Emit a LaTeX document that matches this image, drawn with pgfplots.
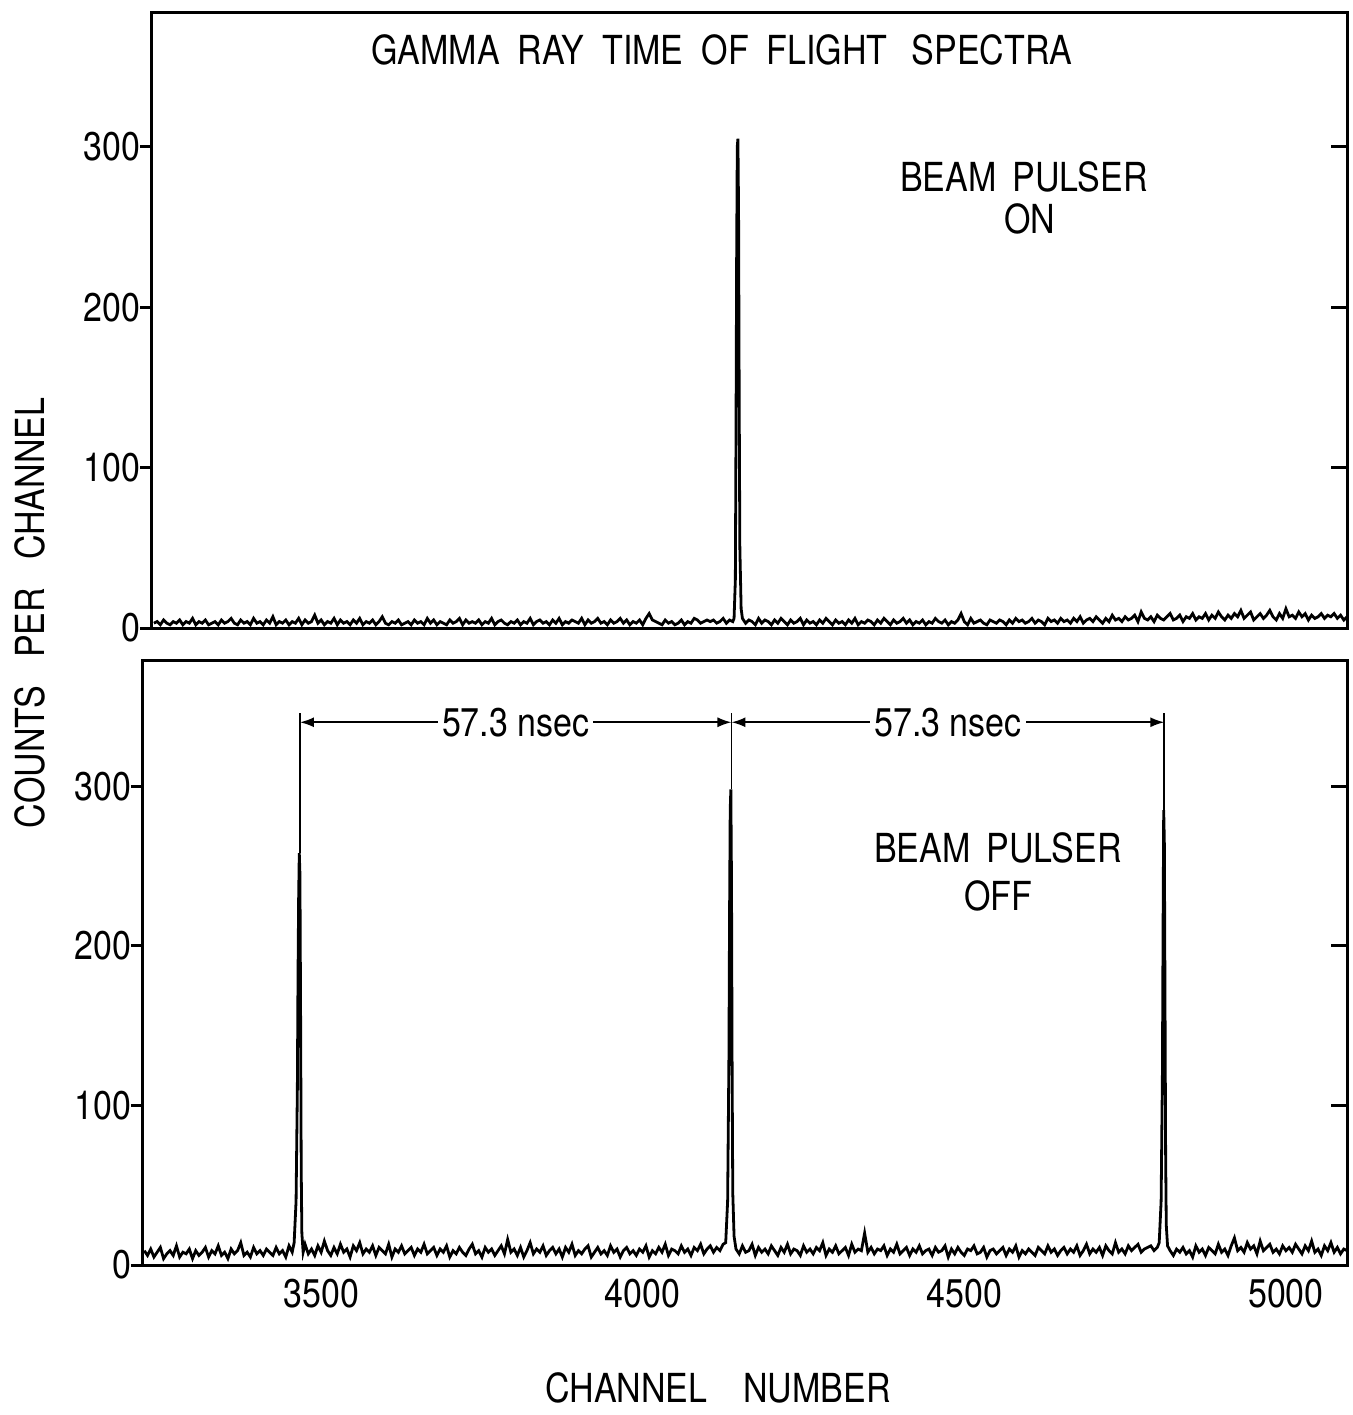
\documentclass[border=0pt]{standalone}
\usepackage{fontspec}
\setmainfont{TeX Gyre Heros}[FakeStretch=0.85]
\usepackage{pgfplots}
\pgfplotsset{compat=1.18}
\usetikzlibrary{arrows.meta}
\begin{document}
\fontsize{20}{24}\selectfont
\begin{tikzpicture}
\useasboundingbox (0,0) rectangle (676.5pt,-707.5pt);
\pgfplotsset{
  panel/.style={
    scale only axis,
    axis line style={line width=1.5pt},
    every tick/.style={line width=1.5pt, black},
    major tick length=6pt,
    tick align=outside,
    ytick pos=left,
    xtick pos=left,
    ytick={0,100,200,300},
    ymin=0,
    /pgf/number format/assume math mode=true,
    tick label style={font=\fontsize{20}{24}\selectfont},
    yticklabel style={xshift=7pt},
    clip=true,
  }
}
% ---------------- top panel ----------------
\begin{axis}[panel, at={(76pt,-314pt)}, anchor=south west,
  width=597.5pt, height=308pt, xmin=3237, xmax=5095, ymax=384, xtick=\empty]
\addplot[black, line width=1.4pt] coordinates {
(3240,3)(3245,4)(3250,2)(3255,5)(3260,3)(3265,2)(3270,4)(3275,3)(3280,5)(3285,2)(3290,4)(3295,3)(3300,6)(3305,2)(3310,4)(3315,3)(3320,5)(3325,2)(3330,3)(3335,4)
(3340,2)(3345,5)(3350,3)(3355,4)(3360,6)(3365,3)(3370,2)(3375,5)(3380,3)(3385,4)(3390,2)(3395,6)(3400,3)(3405,4)(3410,2)(3415,5)(3420,3)(3425,7)(3430,2)(3435,4)
(3440,3)(3445,5)(3450,2)(3455,4)(3460,3)(3465,6)(3470,2)(3475,5)(3480,3)(3485,4)(3490,8)(3495,3)(3500,5)(3505,2)(3510,4)(3515,3)(3520,6)(3525,2)(3530,5)(3535,3)
(3540,4)(3545,2)(3550,5)(3555,3)(3560,6)(3565,2)(3570,4)(3575,3)(3580,5)(3585,2)(3590,4)(3595,7)(3600,3)(3605,2)(3610,4)(3615,3)(3620,5)(3625,2)(3630,3)(3635,4)
(3640,2)(3645,5)(3650,3)(3655,4)(3660,2)(3665,6)(3670,3)(3675,5)(3680,2)(3685,4)(3690,3)(3695,2)(3700,5)(3705,3)(3710,4)(3715,6)(3720,2)(3725,5)(3730,3)(3735,4)
(3740,3)(3745,5)(3750,2)(3755,4)(3760,3)(3765,6)(3770,2)(3775,4)(3780,5)(3785,3)(3790,2)(3795,4)(3800,3)(3805,5)(3810,2)(3815,4)(3820,3)(3825,6)(3830,2)(3835,4)
(3840,5)(3845,3)(3850,4)(3855,2)(3860,5)(3865,3)(3870,6)(3875,2)(3880,4)(3885,3)(3890,5)(3895,4)(3900,3)(3905,6)(3910,2)(3915,5)(3920,3)(3925,4)(3930,6)(3935,3)
(3940,4)(3945,2)(3950,5)(3955,3)(3960,4)(3965,6)(3970,3)(3975,5)(3980,2)(3985,4)(3990,3)(3995,5)(4000,2)(4005,6)(4010,9)(4015,5)(4020,4)(4025,3)(4030,2)(4035,5)
(4040,3)(4045,4)(4050,2)(4055,3)(4060,5)(4065,2)(4070,4)(4075,3)(4080,6)(4085,5)(4090,3)(4095,4)(4100,5)(4105,4)(4110,5)(4115,3)(4120,4)(4125,6)(4130,3)(4135,5)(4140,4)
(4142,6)(4144,30)(4145,120)(4146,230)(4147,300)(4148,305)(4149,260)(4150,140)(4151,50)(4153,12)(4155,6)
(4160,3)(4165,5)(4170,4)(4175,2)(4180,6)(4185,3)(4190,5)(4195,4)(4200,2)(4205,5)(4210,3)(4215,6)(4220,4)(4225,2)(4230,5)(4235,3)(4240,4)(4245,6)(4250,2)(4255,5)
(4260,3)(4265,4)(4270,2)(4275,5)(4280,3)(4285,6)(4290,4)(4295,2)(4300,5)(4305,3)(4310,4)(4315,2)(4320,5)(4325,3)(4330,6)(4335,2)(4340,4)(4345,3)(4350,5)(4355,4)
(4360,2)(4365,5)(4370,3)(4375,6)(4380,4)(4385,2)(4390,5)(4395,3)(4400,4)(4405,6)(4410,3)(4415,5)(4420,2)(4425,4)(4430,3)(4435,5)(4440,2)(4445,4)(4450,3)(4455,6)
(4460,4)(4465,3)(4470,5)(4475,2)(4480,4)(4485,3)(4490,5)(4495,9)(4500,4)(4505,2)(4510,6)(4515,3)(4520,4)(4525,5)(4530,3)(4535,2)(4540,5)(4545,4)(4550,3)(4555,5)
(4560,4)(4565,2)(4570,5)(4575,3)(4580,6)(4585,4)(4590,5)(4595,3)(4600,4)(4605,6)(4610,3)(4615,5)(4620,4)(4625,2)(4630,6)(4635,4)(4640,5)(4645,3)(4650,6)(4655,4)
(4660,5)(4665,3)(4670,6)(4675,4)(4680,7)(4685,3)(4690,5)(4695,6)(4700,4)(4705,7)(4710,5)(4715,3)(4720,6)(4725,4)(4730,8)(4735,5)(4740,6)(4745,4)(4750,7)(4755,5)
(4760,6)(4765,8)(4770,4)(4775,10)(4780,6)(4785,5)(4790,7)(4795,4)(4800,8)(4805,6)(4810,5)(4815,7)(4820,9)(4825,5)(4830,6)(4835,8)(4840,4)(4845,7)(4850,6)(4855,9)
(4860,5)(4865,7)(4870,6)(4875,9)(4880,5)(4885,8)(4890,6)(4895,10)(4900,7)(4905,5)(4910,8)(4915,6)(4920,9)(4925,7)(4930,11)(4935,6)(4940,8)(4945,10)(4950,5)(4955,7)
(4960,9)(4965,6)(4970,8)(4975,11)(4980,7)(4985,5)(4990,9)(4995,6)(5000,12)(5005,7)(5010,8)(5015,6)(5020,10)(5025,7)(5030,9)(5035,5)(5040,8)(5045,6)(5050,7)(5055,9)
(5060,6)(5065,8)(5070,7)(5075,9)(5080,6)(5085,8)(5090,5)(5095,7)
};
\end{axis}
% right-side inner ticks, top panel
\begin{axis}[scale only axis, at={(76pt,-314pt)}, anchor=south west,
  width=597.5pt, height=308pt, xmin=3237, xmax=5095, ymin=0, ymax=384,
  axis line style={draw=none}, xtick=\empty, ytick={100,200,300}, yticklabels={},
  ytick pos=right, tick align=inside, major tick length=8pt,
  every tick/.style={line width=1.5pt, black}]
\end{axis}
% ---------------- bottom panel ----------------
\begin{axis}[panel, at={(71.5pt,-632.5pt)}, anchor=south west,
  width=602pt, height=302.5pt, xmin=3223, xmax=5095, ymax=379,
  xtick={3500,4000,4500,5000}, xticklabel style={yshift=6pt},
  x tick style={draw=none},
  scaled x ticks=false, xticklabel={\pgfmathprintnumber[1000 sep={}]{\tick}}]
\addplot[black, line width=1.4pt] coordinates {
(3225,9)(3230,6)(3235,10)(3240,5)(3245,8)(3250,11)(3255,4)(3260,7)(3265,9)(3270,6)(3275,12)(3280,5)(3285,8)(3290,7)(3295,10)(3300,4)(3305,9)(3310,6)(3315,8)(3320,11)
(3325,5)(3330,9)(3335,7)(3340,12)(3345,6)(3350,8)(3355,4)(3360,10)(3365,7)(3370,9)(3375,14)(3380,6)(3385,8)(3390,5)(3395,11)(3400,7)(3405,9)(3410,6)(3415,10)(3420,8)
(3425,6)(3430,11)(3435,7)(3440,9)(3445,5)(3450,12)(3455,8)
(3458,14)(3461,40)(3463,110)(3464,180)(3465,230)(3466,258)(3467,245)(3468,160)(3469,60)(3470,20)(3472,8)
(3475,13)(3480,7)(3485,10)(3490,6)(3495,12)(3500,8)(3505,15)(3510,9)(3515,6)(3520,11)(3525,7)(3530,13)(3535,8)(3540,10)(3545,5)(3550,12)(3555,9)(3560,14)(3565,7)(3570,10)
(3575,8)(3580,12)(3585,6)(3590,11)(3595,9)(3600,7)(3605,13)(3610,5)(3615,10)(3620,8)(3625,12)(3630,7)(3635,9)(3640,11)(3645,6)(3650,10)(3655,8)(3660,13)(3665,7)(3670,9)
(3675,11)(3680,6)(3685,10)(3690,8)(3695,12)(3700,5)(3705,9)(3710,7)(3715,11)(3720,8)(3725,6)(3730,10)(3735,13)(3740,7)(3745,9)(3750,5)(3755,11)(3760,8)(3765,10)(3770,6)
(3775,9)(3780,12)(3785,7)(3790,16)(3795,8)(3800,10)(3805,6)(3810,11)(3815,5)(3820,9)(3825,14)(3830,7)(3835,10)(3840,8)(3845,12)(3850,6)(3855,9)(3860,11)(3865,7)(3870,10)
(3875,5)(3880,11)(3885,8)(3890,13)(3895,6)(3900,9)(3905,7)(3910,10)(3915,12)(3920,5)(3925,8)(3930,11)(3935,7)(3940,9)(3945,6)(3950,12)(3955,8)(3960,10)(3965,5)(3970,9)
(3975,11)(3980,7)(3985,9)(3990,6)(3995,10)(4000,8)(4005,12)(4010,5)(4015,9)(4020,7)(4025,11)(4030,8)(4035,13)(4040,6)(4045,10)(4050,9)(4055,7)(4060,12)(4065,8)(4070,10)
(4075,6)(4080,11)(4085,9)(4090,13)(4095,7)(4100,10)(4105,12)(4110,8)(4115,11)(4120,9)(4125,13)
(4129,14)(4132,40)(4134,130)(4135,220)(4136,285)(4137,298)(4138,240)(4139,120)(4140,45)(4142,18)
(4145,10)(4150,7)(4155,12)(4160,8)(4165,9)(4170,13)(4175,6)(4180,11)(4185,8)(4190,10)(4195,7)(4200,12)(4205,9)(4210,6)(4215,11)(4220,8)(4225,13)(4230,7)(4235,10)(4240,9)
(4245,6)(4250,12)(4255,8)(4260,10)(4265,7)(4270,11)(4275,9)(4280,14)(4285,6)(4290,10)(4295,8)(4300,12)(4305,7)(4310,9)(4315,11)(4320,6)(4325,13)(4330,8)(4335,10)(4340,9)
(4345,20)(4350,8)(4355,11)(4360,7)(4365,10)(4370,9)(4375,12)(4380,6)(4385,10)(4390,8)(4395,13)(4400,7)(4405,9)(4410,11)(4415,6)(4420,10)(4425,8)(4430,12)(4435,7)(4440,9)
(4445,10)(4450,6)(4455,11)(4460,8)(4465,9)(4470,12)(4475,5)(4480,10)(4485,7)(4490,11)(4495,8)(4500,6)(4505,10)(4510,9)(4515,12)(4520,7)(4525,8)(4530,11)(4535,5)(4540,9)
(4545,10)(4550,7)(4555,9)(4560,11)(4565,6)(4570,10)(4575,8)(4580,12)(4585,5)(4590,9)(4595,7)(4600,10)(4605,8)(4610,6)(4615,11)(4620,9)(4625,7)(4630,12)(4635,8)(4640,10)
(4645,6)(4650,9)(4655,11)(4660,7)(4665,10)(4670,8)(4675,12)(4680,6)(4685,9)(4690,13)(4695,7)(4700,10)(4705,8)(4710,11)(4715,6)(4720,12)(4725,9)(4730,7)(4735,14)(4740,8)
(4745,10)(4750,7)(4755,12)(4760,9)(4765,11)(4770,13)(4775,8)(4780,10)(4785,11)(4790,12)(4795,9)(4800,11)
(4803,14)(4806,40)(4808,120)(4809,210)(4810,285)(4811,265)(4812,170)(4813,70)(4814,25)(4816,12)
(4820,9)(4825,6)(4830,10)(4835,8)(4840,11)(4845,7)(4850,9)(4855,5)(4860,12)(4865,8)(4870,10)(4875,6)(4880,11)(4885,9)(4890,7)(4895,13)(4900,8)(4905,10)(4910,6)(4915,12)
(4920,17)(4925,9)(4930,11)(4935,8)(4940,14)(4945,10)(4950,12)(4955,7)(4960,15)(4965,9)(4970,11)(4975,13)(4980,8)(4985,10)(4990,7)(4995,12)(5000,9)(5005,11)(5010,8)(5015,13)
(5020,10)(5025,7)(5030,12)(5035,9)(5040,15)(5045,8)(5050,10)(5055,6)(5060,12)(5065,9)(5070,14)(5075,8)(5080,11)(5085,7)(5090,10)(5095,9)
};
% dimension lines
\draw[line width=0.9pt] (axis cs:3467,258) -- (axis cs:3467,346);
\draw[line width=0.9pt] (axis cs:4138,298) -- (axis cs:4138,346);
\draw[line width=0.9pt] (axis cs:4811,285) -- (axis cs:4811,346);
\draw[line width=0.9pt, {Latex[length=7pt,width=5pt]}-{Latex[length=7pt,width=5pt]}]
  (axis cs:3467,340) -- node[fill=white, inner sep=2pt] {57.3 nsec} (axis cs:4138,340);
\draw[line width=0.9pt, {Latex[length=7pt,width=5pt]}-{Latex[length=7pt,width=5pt]}]
  (axis cs:4138,340) -- node[fill=white, inner sep=2pt] {57.3 nsec} (axis cs:4811,340);
\end{axis}
% right-side inner ticks, bottom panel
\begin{axis}[scale only axis, at={(71.5pt,-632.5pt)}, anchor=south west,
  width=602pt, height=302.5pt, xmin=3223, xmax=5095, ymin=0, ymax=379,
  axis line style={draw=none}, xtick=\empty, ytick={100,200,300}, yticklabels={},
  ytick pos=right, tick align=inside, major tick length=8pt,
  every tick/.style={line width=1.5pt, black}]
\end{axis}
% texts
\node at (361pt,-25pt) {GAMMA\hspace{9pt}RAY\hspace{9pt}TIME\hspace{9pt}OF\hspace{9pt}FLIGHT\hspace{12pt}SPECTRA};
\node[align=center, inner sep=0pt] at (512pt,-99pt) {BEAM\hspace{8pt}PULSER\\[-3pt]\hspace{6pt}ON};
\node[align=center, inner sep=0pt] at (499pt,-436pt) {BEAM\hspace{8pt}PULSER\\[0pt]OFF};
\node[rotate=90] at (15pt,-306.5pt) {COUNTS\hspace{14pt}PER\hspace{14pt}CHANNEL};
\node at (359pt,-694pt) {CHANNEL\hspace{18pt}NUMBER};
\end{tikzpicture}
\end{document}
